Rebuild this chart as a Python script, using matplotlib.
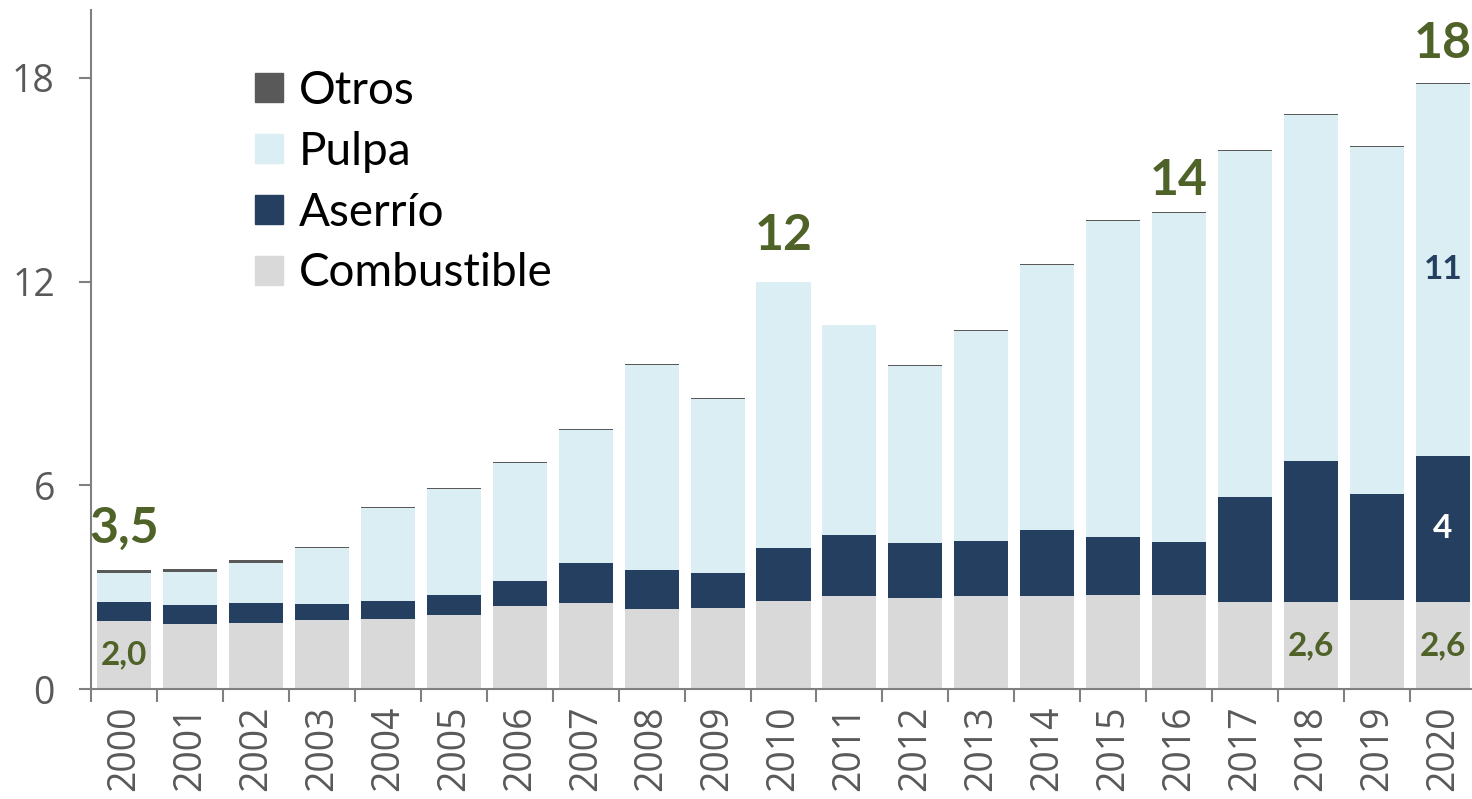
import matplotlib
matplotlib.use("Agg")
import matplotlib.pyplot as plt
from matplotlib.patches import Patch
import numpy as np

years = [str(y) for y in range(2000, 2021)]
combustible = [2.00, 1.92, 1.95, 2.04, 2.07, 2.18, 2.44, 2.53, 2.36, 2.39, 2.60,
               2.74, 2.69, 2.74, 2.74, 2.77, 2.77, 2.57, 2.57, 2.62, 2.57]
aserrio = [0.55, 0.55, 0.58, 0.46, 0.52, 0.59, 0.74, 1.18, 1.14, 1.03, 1.54,
           1.79, 1.61, 1.62, 1.93, 1.70, 1.55, 3.10, 4.14, 3.13, 4.29]
pulpa = [0.87, 0.98, 1.18, 1.66, 2.75, 3.12, 3.48, 3.92, 6.04, 5.12, 7.85,
         6.19, 5.20, 6.18, 7.81, 9.31, 9.70, 10.17, 10.21, 10.20, 10.97]
otros = [0.08, 0.08, 0.09, 0.03, 0.03, 0.03, 0.03, 0.03, 0.03, 0.03, 0.00,
         0.00, 0.04, 0.03, 0.03, 0.03, 0.04, 0.03, 0.03, 0.03, 0.03]

# total labels above selected bars: (index, text, offset in points)
total_labels = [(0, "3,5", 20), (10, "12", 23), (16, "14", 12), (20, "18", 18)]
# labels inside segments: (index, series, text, colour)
inner_labels = [(0, "comb", "2,0", "#4F6228"), (18, "comb", "2,6", "#4F6228"),
                (20, "comb", "2,6", "#4F6228"), (20, "aserr", "4", "white"),
                (20, "pulpa", "11", "#243F60")]

COL = {"Otros": "#595959", "Pulpa": "#DAEEF3", "Aserrío": "#243F60",
       "Combustible": "#D9D9D9"}
GREEN = "#4F6228"
GREY = "#808080"
TICKFONT = ["Open Sans", "DejaVu Sans"]

fig = plt.figure(figsize=(14.72, 7.99), dpi=100)
ax = fig.add_axes([91 / 1472, 110 / 799, 1385 / 1472, 679 / 799])

x = np.arange(len(years))
w = 0.82
comb = np.array(combustible)
ase = np.array(aserrio)
pul = np.array(pulpa)
otr = np.array(otros)

ax.bar(x, comb, w, color=COL["Combustible"])
ax.bar(x, ase, w, bottom=comb, color=COL["Aserrío"])
ax.bar(x, pul, w, bottom=comb + ase, color=COL["Pulpa"])
ax.bar(x, otr, w, bottom=comb + ase + pul, color=COL["Otros"])
total = comb + ase + pul + otr

for i, txt, off in total_labels:
    ax.annotate(txt, (x[i], total[i]), xytext=(0, off), textcoords="offset points",
                ha="center", va="baseline", fontsize=36, fontweight="bold",
                color=GREEN, family="Lato")

centers = {"comb": comb / 2, "aserr": comb + ase / 2, "pulpa": comb + ase + pul / 2}
for i, s, txt, c in inner_labels:
    ax.text(x[i], centers[s][i], txt, ha="center", va="center", fontsize=24,
            fontweight="bold", color=c, family="Lato")

ax.set_xlim(-0.5, len(years) - 0.5)
ax.set_ylim(0, 20)
ax.set_yticks([0, 6, 12, 18])
ax.set_xticks(x)
ax.set_xticklabels(years, rotation=90)
ax.set_xticks(np.arange(len(years) + 1) - 0.5, minor=True)
ax.tick_params(axis="x", which="major", length=0, pad=12)
ax.tick_params(axis="x", which="minor", length=9, width=1.5, color=GREY)
ax.tick_params(axis="y", length=9, width=1.5, color=GREY, pad=17)
for lab in ax.get_xticklabels() + ax.get_yticklabels():
    lab.set_fontsize(27)
    lab.set_color("#595959")
    lab.set_family(TICKFONT)

for sp in ["top", "right"]:
    ax.spines[sp].set_visible(False)
for sp in ["left", "bottom"]:
    ax.spines[sp].set_color(GREY)
    ax.spines[sp].set_linewidth(1.5)

handles = [Patch(color=COL[k], label=k) for k in ["Otros", "Pulpa", "Aserrío", "Combustible"]]
ax.legend(handles=handles, loc="upper left", bbox_to_anchor=(255 / 1472, 1 - 70 / 799),
          bbox_transform=fig.transFigure, frameon=False,
          prop={"family": "Lato", "size": 33}, handlelength=0.6, handleheight=0.6,
          handletextpad=0.35, labelspacing=0.41, borderaxespad=0, borderpad=0)

fig.savefig("out.png", dpi=100)
